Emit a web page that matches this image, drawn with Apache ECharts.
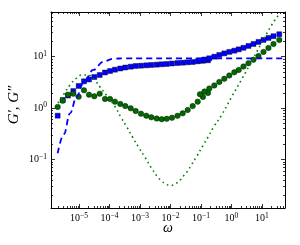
<!DOCTYPE html>
<html><head><meta charset="utf-8">
<script src="https://cdn.jsdelivr.net/npm/echarts@6/dist/echarts.min.js"></script>
<style>html,body{margin:0;padding:0;background:#fff}#c{width:300px;height:245px}</style>
</head><body><div id="c"></div>
<script>
// ---- data ----
const xMin = 1.21e-6, xMax = 56.8;
const yMin = 0.01125, yMax = 74.3;
const xTickLabels = [1e-5, 1e-4, 1e-3, 1e-2, 1e-1, 1, 10];
const yTickLabels = [0.1, 1, 10];

// low-frequency (converted) data
const creepOmega = [2.00e-6, 2.93e-6, 4.36e-6, 6.50e-6, 9.77e-6, 1.46e-5, 2.13e-5, 3.18e-5, 4.78e-5, 7.12e-5,
  1.04e-4, 1.51e-4, 2.26e-4, 3.30e-4, 4.95e-4, 7.22e-4, 1.08e-3, 1.61e-3, 2.35e-3, 3.53e-3,
  5.14e-3, 7.50e-3, 0.0112, 0.0170, 0.0251, 0.0366, 0.0535, 0.0780, 0.116, 0.170];
const creepGp = [0.708, 1.43, 1.75, 2.14, 2.69, 3.31, 3.60, 4.02, 4.40, 4.92,
  5.26, 5.58, 5.89, 6.15, 6.38, 6.59, 6.68, 6.79, 6.89, 6.99,
  7.11, 7.21, 7.36, 7.53, 7.64, 7.78, 7.88, 8.13, 8.32, 8.51];
const creepGpp = [1.05, 1.39, 1.82, 1.90, 1.66, 2.21, 1.82, 1.69, 1.90, 1.50,
  1.50, 1.33, 1.20, 1.09, 0.987, 0.874, 0.774, 0.708, 0.659, 0.624,
  0.605, 0.616, 0.644, 0.705, 0.789, 0.914, 1.09, 1.33, 1.64, 1.96];

// oscillatory data
const oscOmega = [0.0927, 0.130, 0.187, 0.273, 0.398, 0.581, 0.847, 1.24, 1.72, 2.47, 3.61, 5.26, 7.67, 11.2, 16.3, 23.8, 36.9];
const oscGp = [8.43, 8.82, 9.31, 10.0, 10.8, 11.6, 12.4, 13.1, 13.9, 14.9, 16.2, 17.7, 19.4, 21.2, 23.2, 25.1, 27.4];
const oscGpp = [1.85, 2.10, 2.40, 2.75, 3.22, 3.71, 4.30, 4.97, 5.51, 6.44, 7.47, 8.70, 10.3, 12.4, 14.8, 17.7, 21.2];

// model curves
const modelGpOmega = [2.00e-6, 3.22e-6, 5.07e-6, 8.41e-6, 1.38e-5, 2.94e-5, 6.27e-5, 1.33e-4, 3.22e-4, 0.0927, 48.9];
const modelGp = [0.131, 0.311, 0.789, 1.66, 3.03, 5.51, 8.0, 9.14, 9.31, 9.31, 9.31];
const modelGppOmega = [2.05e-6, 3.22e-6, 5.07e-6, 7.98e-6, 1.25e-5, 1.97e-5, 3.35e-5, 4.89e-5, 8.10e-5, 1.48e-4,
  2.38e-4, 3.75e-4, 5.77e-4, 9.06e-4, 1.46e-3, 2.30e-3, 3.75e-3, 5.07e-3, 6.97e-3, 0.0100,
  0.0151, 0.0216, 0.0283, 0.0375, 0.0470, 0.0723, 0.119, 0.173, 0.253, 0.477,
  1.02, 2.26, 4.81, 10.2, 21.8, 34.8];
const modelGpp = [1.25, 1.88, 2.81, 3.76, 4.40, 4.40, 3.44, 2.57, 1.75, 1.09,
  0.659, 0.421, 0.268, 0.171, 0.109, 0.0698, 0.0458, 0.0378, 0.0330, 0.0308,
  0.0340, 0.0404, 0.0494, 0.0600, 0.0757, 0.114, 0.190, 0.276, 0.417, 0.731,
  1.66, 3.80, 8.62, 19.6, 43.4, 65.0];

// ---- chart ----
const zip = (a, b) => a.map((v, i) => [v, b[i]]);
const FONT = 'Liberation Serif';
function minorVals(lo, hi) {
  const out = [];
  for (let k = Math.floor(Math.log10(lo)); k <= Math.ceil(Math.log10(hi)); k++) {
    for (let m = 2; m <= 9; m++) { const v = m * Math.pow(10, k); if (v > lo && v < hi) out.push(v); }
  }
  return out;
}
const xMinor = minorVals(xMin, xMax);
const yMinor = minorVals(yMin, yMax);

function fmt(v) {
  const e = Math.log10(v), r = Math.round(e);
  if (Math.abs(e - r) > 1e-6) return '';
  const s = r < 0 ? '\u2212' + (-r) : '' + r;
  return '{b|10}{s|' + s + '}';
}
const rich = {
  b: { fontFamily: FONT, fontSize: 10, lineHeight: 13, color: '#000' },
  s: { fontFamily: FONT, fontSize: 7.5, lineHeight: 8, verticalAlign: 'top', color: '#000' }
};
const tickStyle = { inside: true, length: 4, lineStyle: { color: '#000', width: 0.8 } };
const lineStyleAx = { show: true, lineStyle: { color: '#000', width: 1 } };

const chart = echarts.init(document.getElementById('c'), null, { renderer: 'canvas' });
chart.setOption({
  animation: false,
  backgroundColor: '#fff',
  grid: { left: 51, right: 15, top: 12, bottom: 37, containLabel: false, outerBoundsMode: 'none' },
  xAxis: [
    { type: 'log', position: 'bottom', min: xMin, max: xMax, axisLine: lineStyleAx, axisTick: tickStyle,
      splitLine: { show: false },
      axisLabel: { formatter: fmt, rich: rich, margin: 4, showMinLabel: false, showMaxLabel: false },
      name: 'ω', nameLocation: 'middle', nameGap: 13, nameMoveOverlap: false,
      nameTextStyle: { fontFamily: FONT, fontStyle: 'italic', fontSize: 14, color: '#000' } },
    { type: 'log', position: 'top', min: xMin, max: xMax, axisLine: lineStyleAx, axisTick: tickStyle,
      splitLine: { show: false }, axisLabel: { show: false } }
  ],
  yAxis: [
    { type: 'log', position: 'left', min: yMin, max: yMax, axisLine: lineStyleAx, axisTick: tickStyle,
      splitLine: { show: false },
      axisLabel: { formatter: fmt, rich: rich, margin: 4, showMinLabel: false, showMaxLabel: false },
      name: 'G\u2032, G\u2033', nameLocation: 'middle', nameGap: 29, nameMoveOverlap: false,
      nameTextStyle: { fontFamily: FONT, fontStyle: 'italic', fontSize: 15, color: '#000', padding: [0, 0, 0, 10] } },
    { type: 'log', position: 'right', min: yMin, max: yMax, axisLine: lineStyleAx, axisTick: tickStyle,
      splitLine: { show: false }, axisLabel: { show: false } }
  ],
  series: [
    { type: 'custom', silent: true, z: 1, data: xMinor.map(v => [v, 1]),
      renderItem: function (params, api) {
        const cs = params.coordSys;
        const px = Math.round(api.coord([api.value(0), 1])[0]) + 0.5;
        const b = cs.y + cs.height, t = cs.y;
        return { type: 'group', children: [
          { type: 'line', shape: { x1: px, y1: b, x2: px, y2: b - 2 }, style: { stroke: '#000', lineWidth: 0.8 } },
          { type: 'line', shape: { x1: px, y1: t, x2: px, y2: t + 2 }, style: { stroke: '#000', lineWidth: 0.8 } }
        ] };
      } },
    { type: 'custom', silent: true, z: 1, data: yMinor.map(v => [1e-3, v]),
      renderItem: function (params, api) {
        const cs = params.coordSys;
        const py = Math.round(api.coord([1e-3, api.value(1)])[1]) + 0.5;
        const l = cs.x, r = cs.x + cs.width;
        return { type: 'group', children: [
          { type: 'line', shape: { x1: l, y1: py, x2: l + 2, y2: py }, style: { stroke: '#000', lineWidth: 0.8 } },
          { type: 'line', shape: { x1: r, y1: py, x2: r - 2, y2: py }, style: { stroke: '#000', lineWidth: 0.8 } }
        ] };
      } },
    { name: "G' creep", type: 'scatter', symbol: 'rect', symbolSize: 5, z: 3, data: zip(creepOmega, creepGp),
      itemStyle: { color: '#0000ff', borderColor: '#000', borderWidth: 0.4, opacity: 1 } },
    { name: "G' osc", type: 'scatter', symbol: 'rect', symbolSize: 5, z: 3, data: zip(oscOmega, oscGp),
      itemStyle: { color: '#0000ff', borderColor: '#000', borderWidth: 0.4, opacity: 1 } },
    { name: "G'' creep", type: 'scatter', symbol: 'circle', symbolSize: 5.5, z: 4, data: zip(creepOmega, creepGpp),
      itemStyle: { color: '#006a00', borderColor: '#000', borderWidth: 0.4, opacity: 1 } },
    { name: "G'' osc", type: 'scatter', symbol: 'circle', symbolSize: 5.5, z: 4, data: zip(oscOmega, oscGpp),
      itemStyle: { color: '#006a00', borderColor: '#000', borderWidth: 0.4, opacity: 1 } },
    { name: "G' model", type: 'line', showSymbol: false, smooth: 0.4, smoothMonotone: 'x', z: 5,
      data: zip(modelGpOmega, modelGp),
      lineStyle: { color: '#0000ff', width: 1.8, type: [6, 4] } },
    { name: "G'' model", type: 'line', showSymbol: false, smooth: 0.4, z: 5,
      data: zip(modelGppOmega, modelGpp),
      lineStyle: { color: '#008000', width: 1.6, type: [1.6, 3.4] } }
  ]
});
</script></body></html>
